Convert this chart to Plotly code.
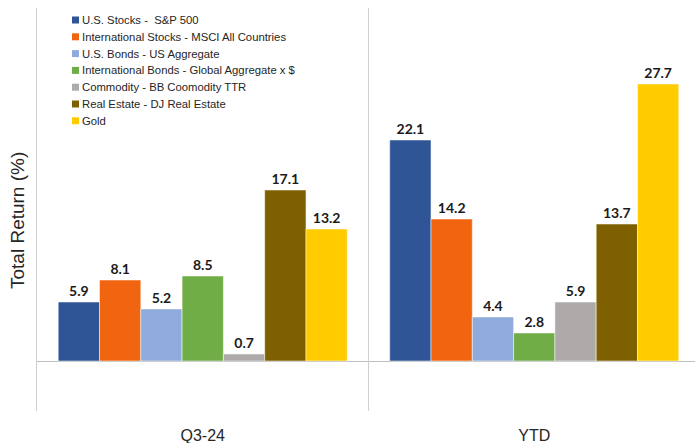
import plotly.graph_objects as go

categories = ["Q3-24", "YTD"]
series_names = [
    "U.S. Stocks -  S&P 500",
    "International Stocks - MSCI All Countries",
    "U.S. Bonds - US Aggregate",
    "International Bonds - Global Aggregate x $",
    "Commodity - BB Coomodity TTR",
    "Real Estate - DJ Real Estate",
    "Gold",
]
us_stocks = [5.9, 22.1]
intl_stocks = [8.1, 14.2]
us_bonds = [5.2, 4.4]
intl_bonds = [8.5, 2.8]
commodity = [0.7, 5.9]
real_estate = [17.1, 13.7]
gold = [13.2, 27.7]
series_values = [us_stocks, intl_stocks, us_bonds, intl_bonds, commodity, real_estate, gold]
colors = ["#2F5597", "#F26510", "#8FAADC", "#70AD47", "#AEAAAA", "#7F6000", "#FFCC00"]

W, H = 695, 443
ML, MR, MT, MB = 37, 0, 8, 32
PW, PH = W - ML - MR, H - MT - MB

def px_x(p):
    return (p - ML) / PW

def px_y(p):
    return 1 - (p - MT) / PH

xpos = list(range(len(categories)))

fig = go.Figure()
for name, vals, col in zip(series_names, series_values, colors):
    fig.add_trace(go.Bar(
        x=xpos, y=vals, name=name, showlegend=False,
        marker=dict(color=col, line=dict(color="white", width=0.5)),
        text=[f"{v:.1f}" for v in vals],
        textposition="outside",
        textfont=dict(family="Lato", size=14, color="#1a1a1a", weight="bold"),
        cliponaxis=False,
    ))

shapes = [dict(type="line", xref="x", yref="paper", x0=0.5, x1=0.5, y0=0, y1=1,
               line=dict(color="#D0D0D0", width=1))]
annotations = [dict(
    text="Total Return (%)", textangle=-90, showarrow=False,
    xref="paper", yref="paper", x=px_x(17), y=px_y(221),
    xanchor="center", yanchor="middle",
    font=dict(family="Liberation Sans", size=19, color="#262626"),
)]

# legend entries (built from series names and colours)
for i, (name, col) in enumerate(zip(series_names, colors)):
    cy = 20 + 16.8 * i
    shapes.append(dict(type="rect", xref="paper", yref="paper",
                       x0=px_x(72), x1=px_x(79), y0=px_y(cy - 3.5), y1=px_y(cy + 3.5),
                       fillcolor=col, line=dict(width=0)))
    annotations.append(dict(text=name, showarrow=False, xref="paper", yref="paper",
                            x=px_x(79.5), y=px_y(cy), xanchor="left", yanchor="middle",
                            font=dict(family="Liberation Sans", size=11.3, color="#262626")))

fig.update_layout(
    width=W, height=H,
    margin=dict(l=ML, r=MR, t=MT, b=MB),
    paper_bgcolor="white", plot_bgcolor="white",
    barmode="group", bargap=0.128, bargroupgap=0,
    showlegend=False,
    xaxis=dict(
        range=[-0.5, -0.5 + PW / 331.5],
        tickvals=xpos, ticktext=categories,
        tickfont=dict(family="Liberation Sans", size=16, color="#262626"),
        showgrid=False, zeroline=False, showline=False, ticks="",
        automargin=False, ticklabelstandoff=13,
    ),
    yaxis=dict(
        range=[-5.0, 35.3],
        showticklabels=False, showgrid=False,
        zeroline=True, zerolinecolor="#BFBFBF", zerolinewidth=1,
        showline=True, linecolor="#D0D0D0", linewidth=1,
        automargin=False,
    ),
    shapes=shapes,
    annotations=annotations,
)

fig.write_html("out.html", config={"displayModeBar": False},
               post_script="document.body.style.margin='0';document.body.style.overflow='hidden';")
